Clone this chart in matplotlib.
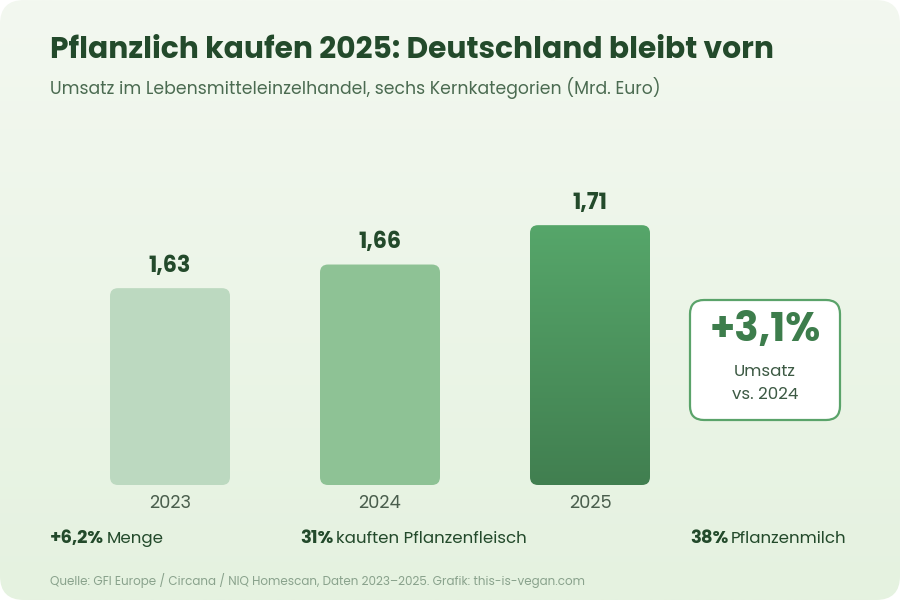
import numpy as np
import matplotlib
matplotlib.use('Agg')
import matplotlib.pyplot as plt
from matplotlib.patches import FancyBboxPatch
from matplotlib.colors import LinearSegmentedColormap

plt.rcParams['font.family'] = ['Poppins', 'Inter', 'DejaVu Sans']

years = ['2023', '2024', '2025']
umsatz = [1.63, 1.66, 1.71]
value_labels = ['1,63', '1,66', '1,71']
bar_colors = ['#bcd9c0', '#8ec295', None]

title = 'Pflanzlich kaufen 2025: Deutschland bleibt vorn'
subtitle = 'Umsatz im Lebensmitteleinzelhandel, sechs Kernkategorien (Mrd. Euro)'
callout_big = '+3,1%'
callout_small = ['Umsatz', 'vs. 2024']
stats = [('+6,2%', 'Menge'), ('31%', 'kauften Pflanzenfleisch'), ('38%', 'Pflanzenmilch')]
source = 'Quelle: GFI Europe / Circana / NIQ Homescan, Daten 2023–2025. Grafik: this-is-vegan.com'

dark = '#234a2b'
mid = '#3d7d4c'

fig = plt.figure(figsize=(9, 6), dpi=100)
fig.patch.set_facecolor('white')

# background panel in pixel coords
bg = fig.add_axes([0, 0, 1, 1], zorder=0)
bg.set_xlim(0, 900)
bg.set_ylim(600, 0)
bg.axis('off')
panel = FancyBboxPatch((0, 0), 900, 600, boxstyle='round,pad=0,rounding_size=24',
                       facecolor='none', edgecolor='none')
bg.add_patch(panel)
grad = np.linspace(0, 1, 256).reshape(-1, 1)
cmap_bg = LinearSegmentedColormap.from_list('bg', ['#f3f8f0', '#e5f2e0'])
im = bg.imshow(grad, cmap=cmap_bg, extent=(0, 900, 600, 0), aspect='auto', zorder=0)
im.set_clip_path(panel)

bg.text(50, 51, title, fontsize=21.4, fontweight='bold', color=dark, va='center', ha='left')
bg.text(50, 88, subtitle, fontsize=12.4, color='#4b6b51', va='center', ha='left')

# callout box
box = FancyBboxPatch((690, 300), 150, 120, boxstyle='round,pad=0,rounding_size=14',
                     facecolor='white', edgecolor='#5aa36a', linewidth=1.6, zorder=2)
bg.add_patch(box)
bg.text(765, 331, callout_big, fontsize=29, fontweight='bold', color=mid,
        ha='center', va='center', zorder=3)
bg.text(765, 372, callout_small[0], fontsize=12, color='#3d5a44', ha='center', va='center', zorder=3)
bg.text(765, 395, callout_small[1], fontsize=12, color='#3d5a44', ha='center', va='center', zorder=3)

# bottom stats
stat_x = [50, 300, 690]
for x, (b, t) in zip(stat_x, stats):
    tb = bg.text(x, 539, b, fontsize=13, fontweight='bold', color=dark, va='center', ha='left')
    fig.canvas.draw()
    w = tb.get_window_extent().width
    bg.text(x + w + 3, 539, t, fontsize=12, color=dark, va='center', ha='left')

bg.text(50, 580, source, fontsize=8.65, color='#8aa38d', va='center', ha='left')

# bar chart axes
ymin, ymax = 1.38, 1.761
ax = fig.add_axes([65 / 900, 115 / 600, 630 / 900, 300 / 600], zorder=1)
ax.patch.set_alpha(0)
for s in ax.spines.values():
    s.set_visible(False)
ax.set_yticks([])
ax.set_xticks(range(len(years)))
ax.set_xticklabels(years, fontsize=12.8, color='#4a5e4d')
ax.tick_params(axis='x', length=0, pad=7)

bw = 120 / 210
rx = 8 / 210
ry = 8 / 788
cmap_bar = LinearSegmentedColormap.from_list('bar', ['#56a66a', '#417f50'])
for i, (v, c, lab) in enumerate(zip(umsatz, bar_colors, value_labels)):
    p = FancyBboxPatch((i - bw / 2, ymin), bw, v - ymin,
                       boxstyle=f'round,pad=0,rounding_size={rx}',
                       mutation_aspect=ry / rx,
                       facecolor=c if c else 'none', edgecolor='none')
    ax.add_patch(p)
    if c is None:
        g = ax.imshow(grad, cmap=cmap_bar, extent=(i - bw / 2, i + bw / 2, ymin, v),
                      origin='upper', aspect='auto', zorder=1)
        g.set_clip_path(p)
    ax.annotate(lab, (i, v), xytext=(0, 7.5), textcoords='offset points',
                ha='center', va='bottom', fontsize=16, fontweight='bold', color=dark)

ax.set_xlim(-0.5, 2.5)
ax.set_ylim(ymin, ymax)

fig.savefig('out.png', dpi=100)
